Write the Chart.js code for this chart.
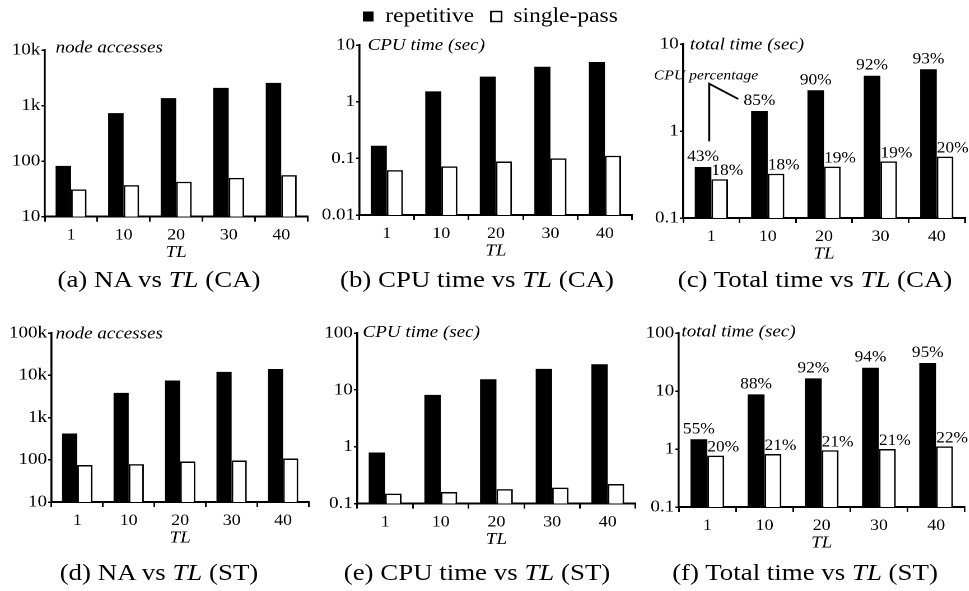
<!DOCTYPE html>
<html>
<head>
<meta charset="utf-8">
<title>repetitive vs single-pass</title>
<script src="https://cdn.jsdelivr.net/npm/chart.js@4.4.1/dist/chart.umd.min.js"></script>
<style>
  html, body { margin: 0; padding: 0; width: 969px; height: 591px; overflow: hidden; background: #fff; }
  /* the figure is laid out a little narrower and then widened as a whole */
  #stage { position: absolute; left: 0; top: 0; width: 866px; height: 591px; transform: scaleX(1.12); transform-origin: 0 0; }
  #stage canvas { position: absolute; }
  .cap { position: absolute; font: 24px/24px "Liberation Serif", "Times New Roman", serif; color: #000; white-space: nowrap; transform: translateX(-50%); }
</style>
</head>
<body>
<div id="stage"></div>
<script>
// ---------------- data ----------------
const tlLabels = ['1', '10', '20', '30', '40'];
const seriesNames = ['repetitive', 'single-pass'];

// (a) node accesses, CA
const naCaRepetitive = [82, 730, 1360, 2080, 2560];
const naCaSinglePass = [31, 37, 42.5, 50, 56];
const naCaTicks = [10, 100, 1000, 10000];
const naCaTickLabels = ['10', '100', '1k', '10k'];

// (b) CPU time (sec), CA
const cpuCaRepetitive = [0.167, 1.52, 2.76, 4.14, 5.0];
const cpuCaSinglePass = [0.062, 0.072, 0.088, 0.100, 0.111];
const cpuCaTicks = [0.01, 0.1, 1, 10];
const cpuCaTickLabels = ['0.01', '0.1', '1', '10'];

// (c) total time (sec), CA, with CPU share of the total
const totCaRepetitive = [0.386, 1.70, 2.94, 4.32, 5.12];
const totCaSinglePass = [0.279, 0.323, 0.389, 0.448, 0.507];
const totCaRepetitiveCpu = ['43%', '85%', '90%', '92%', '93%'];
const totCaSinglePassCpu = ['18%', '18%', '19%', '19%', '20%'];
const totCaTicks = [0.1, 1, 10];
const totCaTickLabels = ['0.1', '1', '10'];

// (d) node accesses, ST
const naStRepetitive = [419, 3820, 7500, 12000, 14100];
const naStSinglePass = [75, 79, 91, 96, 107];
const naStTicks = [10, 100, 1000, 10000, 100000];
const naStTickLabels = ['10', '100', '1k', '10k', '100k'];

// (e) CPU time (sec), ST
const cpuStRepetitive = [0.79, 8.17, 15.4, 23.4, 28.2];
const cpuStSinglePass = [0.150, 0.160, 0.180, 0.191, 0.221];
const cpuStTicks = [0.1, 1, 10, 100];
const cpuStTickLabels = ['0.1', '1', '10', '100'];

// (f) total time (sec), ST, with CPU share of the total
const totStRepetitive = [1.47, 8.73, 16.5, 25.2, 30.4];
const totStSinglePass = [0.77, 0.82, 0.95, 1.00, 1.11];
const totStRepetitiveCpu = ['55%', '88%', '92%', '94%', '95%'];
const totStSinglePassCpu = ['20%', '21%', '21%', '21%', '22%'];
const totStTicks = [0.1, 1, 10, 100];
const totStTickLabels = ['0.1', '1', '10', '100'];

// ---------------- layout ----------------
const FONT = '"Liberation Serif", "Times New Roman", serif';
const SX = 1.12;                 // horizontal widening of the stage
const stage = document.getElementById('stage');

function addPanel(p) {
  const Wy = 46;                 // y axis box width
  const Hx = 46;                 // x axis box height (tick labels + title)
  const legendH = 46;
  const padTop = p.legend ? 0 : 12;
  const l = p.area.l / SX, r = p.area.r / SX;
  const left = l - Wy;
  const top = p.area.t - (p.legend ? legendH : padTop);
  const W = Math.ceil(r - left + 16);
  const padRight = W - (r - left);
  const H = Math.ceil(p.area.b - top + Hx + 4);
  const padBottom = H - (p.area.b - top) - Hx;

  const canvas = document.createElement('canvas');
  canvas.width = W; canvas.height = H;
  canvas.style.left = left + 'px';
  canvas.style.top = top + 'px';
  canvas.style.width = W + 'px';
  canvas.style.height = H + 'px';
  stage.appendChild(canvas);

  const plugins = [];

  // italic quantity name at the top of the y axis
  plugins.push({
    id: 'axisName',
    afterDraw(chart) {
      const ctx = chart.ctx, a = chart.chartArea;
      ctx.save();
      ctx.font = 'italic 17px ' + FONT;
      ctx.fillStyle = '#000';
      ctx.textAlign = 'left';
      ctx.textBaseline = 'alphabetic';
      ctx.fillText(p.name, a.left + p.nameDx, a.top + p.nameDy);
      ctx.restore();
    }
  });

  // CPU share printed over every bar
  if (p.repCpu) {
    plugins.push({
      id: 'cpuShare',
      afterDatasetsDraw(chart) {
        const ctx = chart.ctx;
        ctx.save();
        ctx.font = '15.5px ' + FONT;
        ctx.fillStyle = '#000';
        ctx.textBaseline = 'alphabetic';
        const rep = chart.getDatasetMeta(0).data;
        const sgl = chart.getDatasetMeta(1).data;
        rep.forEach((bar, i) => {
          ctx.textAlign = 'center';
          ctx.fillText(p.repCpu[i], bar.x, bar.y - 6);
        });
        sgl.forEach((bar, i) => {
          ctx.textAlign = 'left';
          ctx.fillText(p.singleCpu[i], bar.x - bar.width / 2, bar.y - 4);
        });
        ctx.restore();
      }
    });
  }

  // "CPU percentage" callout
  if (p.callout) {
    plugins.push({
      id: 'callout',
      afterDraw(chart) {
        const ctx = chart.ctx, a = chart.chartArea;
        ctx.save();
        ctx.font = 'italic 14px ' + FONT;
        ctx.fillStyle = '#000';
        ctx.textAlign = 'left';
        ctx.textBaseline = 'alphabetic';
        ctx.fillText('CPU percentage', a.left - 26.2, a.top + 35.7);
        ctx.strokeStyle = '#000';
        ctx.lineWidth = 1.8;
        ctx.beginPath();
        ctx.moveTo(a.left + 23.2, a.top + 97.4);
        ctx.lineTo(a.left + 23.2, a.top + 39.7);
        ctx.lineTo(a.left + 49.1, a.top + 55);
        ctx.stroke();
        ctx.restore();
      }
    });
  }

  // legend sits in the top strip above the middle panel
  if (p.legend) {
    plugins.push({
      id: 'legendPlace',
      afterLayout(chart) {
        const lg = chart.legend;
        const pad = lg.options.labels.padding;
        const start = (lg.left + pad + lg.right - lg.lineWidths[0]) / 2;
        const dx = (p.legendLeft / SX - left) - start;
        lg.left += dx; lg.right += dx;
        lg.top -= 8; lg.bottom -= 8;
      }
    });
  }

  new Chart(canvas, {
    type: 'bar',
    data: {
      labels: tlLabels,
      datasets: [
        { label: seriesNames[0], data: p.rep, backgroundColor: '#000', borderColor: '#000', borderWidth: 0,
          barPercentage: 1, categoryPercentage: 0.59 },
        { label: seriesNames[1], data: p.single, backgroundColor: '#fff', borderColor: '#000', borderWidth: 1.5,
          barPercentage: 1, categoryPercentage: 0.59 }
      ]
    },
    options: {
      responsive: false,
      animation: false,
      devicePixelRatio: 2,
      layout: { padding: { top: padTop, right: padRight, bottom: padBottom, left: 0 } },
      plugins: {
        tooltip: { enabled: false },
        legend: {
          display: !!p.legend,
          position: 'top',
          labels: { color: '#000', font: { family: FONT, size: 21 }, boxWidth: 9.5, boxHeight: 10, padding: 15 }
        }
      },
      scales: {
        x: {
          type: 'category',
          offset: true,
          grid: { offset: true, drawOnChartArea: false, drawTicks: true, tickLength: 5, color: '#000', lineWidth: 1.5 },
          border: { display: true, color: '#000', width: 2 },
          ticks: { color: '#000', font: { family: FONT, size: 16 }, padding: 4, maxRotation: 0, autoSkip: false },
          title: { display: true, text: 'TL', color: '#000', font: { family: FONT, size: 17, style: 'italic' }, padding: 0 },
          afterFit(s) { s.height = Hx; }
        },
        y: {
          type: 'logarithmic',
          min: p.ticks[0],
          max: p.ticks[p.ticks.length - 1],
          grid: { drawOnChartArea: false, drawTicks: true, tickLength: 3, color: '#000', lineWidth: 1.5 },
          border: { display: true, color: '#000', width: 1.8 },
          ticks: { color: '#000', font: { family: FONT, size: 17 }, padding: 1, autoSkip: false,
                   callback: (v, i) => p.tickLabels[i] },
          afterBuildTicks(s) { s.ticks = p.ticks.map(v => ({ value: v })); },
          afterFit(s) { s.width = Wy; }
        }
      }
    },
    plugins
  });
}

function addCaption(html, centerX, baseline) {
  const d = document.createElement('div');
  d.className = 'cap';
  d.innerHTML = html;
  d.style.left = (centerX / SX) + 'px';
  d.style.top = (baseline - 20) + 'px';
  stage.appendChild(d);
}

addPanel({ area: { l: 44.3, r: 307, t: 50, b: 216.7 }, rep: naCaRepetitive, single: naCaSinglePass,
  ticks: naCaTicks, tickLabels: naCaTickLabels, name: 'node accesses', nameDx: 9.6, nameDy: 2.5 });
addPanel({ area: { l: 359.3, r: 632, t: 45, b: 215 }, rep: cpuCaRepetitive, single: cpuCaSinglePass,
  ticks: cpuCaTicks, tickLabels: cpuCaTickLabels, name: 'CPU time (sec)', nameDx: 7.2, nameDy: 5,
  legend: true, legendLeft: 362.7 });
addPanel({ area: { l: 683.3, r: 965, t: 44.3, b: 218.3 }, rep: totCaRepetitive, single: totCaSinglePass,
  ticks: totCaTicks, tickLabels: totCaTickLabels, name: 'total time (sec)', nameDx: 6, nameDy: 5.7,
  repCpu: totCaRepetitiveCpu, singleCpu: totCaSinglePassCpu, callout: true });
addPanel({ area: { l: 51, r: 308.3, t: 332.7, b: 501.7 }, rep: naStRepetitive, single: naStSinglePass,
  ticks: naStTicks, tickLabels: naStTickLabels, name: 'node accesses', nameDx: 3.6, nameDy: 5.6 });
addPanel({ area: { l: 357.7, r: 636, t: 332.7, b: 503.3 }, rep: cpuStRepetitive, single: cpuStSinglePass,
  ticks: cpuStTicks, tickLabels: cpuStTickLabels, name: 'CPU time (sec)', nameDx: 4.7, nameDy: 4 });
addPanel({ area: { l: 679, r: 965, t: 333.3, b: 507.3 }, rep: totStRepetitive, single: totStSinglePass,
  ticks: totStTicks, tickLabels: totStTickLabels, name: 'total time (sec)', nameDx: 2.4, nameDy: 3.4,
  repCpu: totStRepetitiveCpu, singleCpu: totStSinglePassCpu });

addCaption('(a) NA vs <i>TL</i> (CA)', 159, 287);
addCaption('(b) CPU time vs <i>TL</i> (CA)', 477, 287);
addCaption('(c) Total time vs <i>TL</i> (CA)', 815, 287);
addCaption('(d) NA vs <i>TL</i> (ST)', 159, 580);
addCaption('(e) CPU time vs <i>TL</i> (ST)', 477, 580);
addCaption('(f) Total time vs <i>TL</i> (ST)', 805, 580);
</script>
</body>
</html>
